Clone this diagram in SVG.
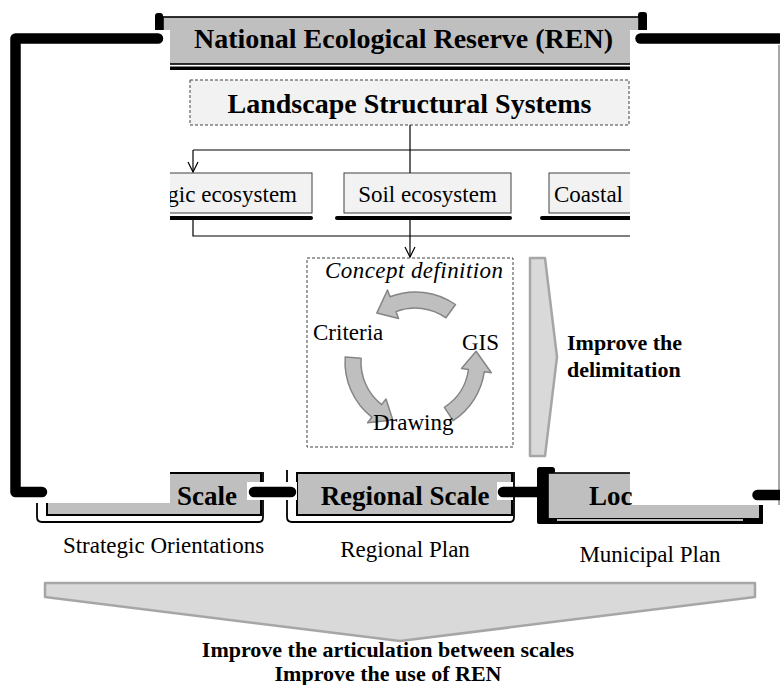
<svg xmlns="http://www.w3.org/2000/svg" width="780" height="685" viewBox="0 0 780 685">
<defs>
<style>
.t{font-family:"Liberation Serif","Times New Roman",serif;fill:#000}
.b{font-weight:bold}
.thick{fill:none;stroke:#000;stroke-width:10.5;stroke-linecap:round;stroke-linejoin:round}
.thin{fill:none;stroke:#000;stroke-width:1.2}
.dash{stroke:#404040;stroke-width:1;stroke-dasharray:3 2}
.eco{fill:#f2f2f2;stroke:#404040;stroke-width:1}
.gray{fill:#bfbfbf;stroke:#000;stroke-width:2}
.cyc{fill:#bfbfbf;stroke:#858585;stroke-width:1.5;stroke-linejoin:round}
.big{fill:#d9d9d9;stroke:#a6a6a6;stroke-width:2.5;stroke-linejoin:round}
.mask{fill:#fff}
.sh{fill:#000}
.ol{fill:none;stroke:#000;stroke-width:1.8}
</style>
<marker id="oa" viewBox="0 0 12 12" refX="11" refY="6" markerWidth="12" markerHeight="12" markerUnits="userSpaceOnUse" orient="auto"><path d="M1,1 L11,6 L1,11" fill="none" stroke="#000" stroke-width="1.2"/></marker>
</defs>

<!-- REN box -->
<g id="ren">
<rect class="sh" x="155" y="13" width="8" height="57" rx="3"/>
<rect class="sh" x="638" y="12" width="9" height="58" rx="3"/>
<rect class="gray" x="163" y="17" width="476" height="47" style="stroke-width:1.6"/>
<rect class="sh" x="155" y="66.5" width="492" height="3.5"/>
<text class="t b" x="403.5" y="48" font-size="28" text-anchor="middle">National Ecological Reserve (REN)</text>
</g>

<g id="landscape">
<rect class="dash" x="190" y="80" width="439" height="45" fill="#f2f2f2"/>
<text class="t b" x="409.5" y="113" font-size="28" text-anchor="middle">Landscape Structural Systems</text>
</g>

<g id="eco-left">
<rect class="sh" x="150" y="216" width="163" height="4" rx="2"/>
<rect class="eco" x="145" y="173" width="167" height="40"/>
<text class="t" x="297" y="202" font-size="23" text-anchor="end">gic ecosystem</text>
</g>
<g id="eco-soil">
<rect class="sh" x="335" y="216" width="177" height="4" rx="2"/>
<rect class="eco" x="344" y="173" width="167" height="40"/>
<text class="t" x="427.5" y="202" font-size="23" text-anchor="middle">Soil ecosystem</text>
</g>
<g id="eco-coastal">
<rect class="sh" x="540" y="216" width="120" height="4" rx="2"/>
<rect class="eco" x="549" y="173" width="110" height="40"/>
<text class="t" x="554" y="202" font-size="23">Coastal</text>
</g>

<g id="connectors">
<path class="thin" d="M410 125 V173"/>
<path class="thin" d="M193 150 H640"/>
<path class="thin" d="M193 150 V172" marker-end="url(#oa)"/>
<path class="thin" d="M193 220 V236 H640"/>
<path class="thin" d="M410 220 V257" marker-end="url(#oa)"/>
</g>

<g id="concept">
<rect class="dash" x="307" y="258" width="206" height="189" fill="none"/>
<text class="t" x="414" y="278" font-size="23" font-style="italic" text-anchor="middle" textLength="178">Concept definition</text>
<path class="cyc" d="M455.5 304.5 A70 70 0 0 0 390 296.7 L387.5 290 L376.8 313.1 L398.5 318.5 L396 311.6 A54 54 0 0 1 445.9 317.8 Z"/>
<path class="cyc" d="M345.2 357.1 A70 70 0 0 0 371.9 417.2 L367.6 422.8 L392.8 419.9 L386 398.9 L381.7 404.6 A54 54 0 0 1 361.1 358.2 Z"/>
<path class="cyc" d="M453.1 420.7 A70 70 0 0 0 484.3 371.7 L491.3 372.7 L476.1 351.2 L461.5 368.5 L468.5 369.5 A54 54 0 0 1 444.4 407.3 Z"/>
<text class="t" x="313" y="340" font-size="23">Criteria</text>
<text class="t" x="462" y="350" font-size="23">GIS</text>
<text class="t" x="373" y="430" font-size="23">Drawing</text>
</g>

<g id="scale-national">
<path class="ol" d="M37 470 V517 Q37 522 42 522 H259 Q263 522 263 517 V472"/>
<rect class="gray" x="47" y="473" width="214" height="42"/>
</g>
<g id="scale-regional">
<path class="ol" d="M287 470 V517 Q287 522 292 522 H510 Q514 522 514 517 V472"/>
<rect class="gray" x="297" y="473" width="215" height="42"/>
<text class="t b" x="405" y="505" font-size="27" text-anchor="middle">Regional Scale</text>
</g>
<g id="scale-local">
<rect class="sh" x="537" y="467" width="11" height="57" rx="4"/>
<rect class="sh" x="537" y="467" width="18" height="7" rx="3"/>
<rect class="gray" x="548" y="473" width="213" height="46" style="stroke-width:1.6"/>
<rect class="sh" x="537" y="518" width="226" height="6" rx="2"/>
<rect class="sh" x="759" y="500" width="4" height="24" rx="1"/>
<path d="M557 520 H743" stroke="#fff" stroke-width="1.5"/>
</g>

<g id="plans">
<text class="t" x="163.5" y="553" font-size="23" text-anchor="middle">Strategic Orientations</text>
<text class="t" x="405" y="557" font-size="23" text-anchor="middle">Regional Plan</text>
<text class="t" x="650" y="562" font-size="23" text-anchor="middle">Municipal Plan</text>
</g>

<!-- white cut-outs -->
<g id="masks">
<rect class="mask" x="0" y="30" width="170" height="473"/>
<rect class="mask" x="630" y="30" width="149" height="475"/>
<path d="M779 45 V505" stroke="#8a8a8a" stroke-width="1.5"/>
<rect class="mask" x="247" y="482" width="50" height="18"/>
<rect class="mask" x="497" y="482" width="16" height="18"/>
</g>

<g id="scale-texts">
<text class="t b" x="177" y="505" font-size="27">Scale</text>
<text class="t b" x="589" y="505" font-size="27">Loc</text>
</g>

<g id="thick-connectors">
<path class="thick" d="M158 38.5 H15.5 V492 H42"/>
<path class="thick" d="M640.5 38.5 H790"/>
<path class="thick" d="M254 492 H291"/>
<path class="thick" d="M503 492 H540"/>
<path class="thick" d="M757.5 495 H790"/>
</g>

<g id="delimitation">
<polygon class="big" points="530,258 545,258 557,357 545,456 530,456"/>
<text class="t b" x="567" y="350" font-size="22">Improve the</text>
<text class="t b" x="567" y="377" font-size="22">delimitation</text>
</g>

<g id="outcome">
<polygon class="big" points="45,583 755,583 755,597 400,641 45,597"/>
<text class="t b" x="388" y="657" font-size="22" text-anchor="middle">Improve the articulation between scales</text>
<text class="t b" x="388" y="681" font-size="22" text-anchor="middle">Improve the use of REN</text>
</g>
</svg>
